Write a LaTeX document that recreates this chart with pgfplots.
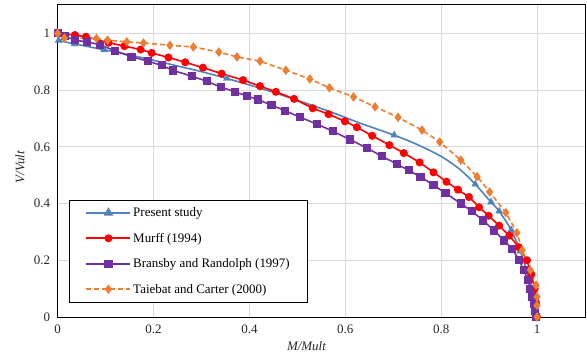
\documentclass[border=0pt]{standalone}
\usepackage{fontspec}
\setmainfont{Liberation Serif}
\usepackage{pgfplots}
\pgfplotsset{compat=1.18}
\definecolor{cblue}{RGB}{79,129,189}
\definecolor{cred}{RGB}{255,0,0}
\definecolor{cpurple}{RGB}{112,48,160}
\definecolor{corange}{RGB}{237,125,49}
\definecolor{cgrid}{RGB}{217,217,217}
\begin{document}
\begin{tikzpicture}
\begin{axis}[
  scale only axis, width=527.3bp, height=312bp,
  xmin=0, xmax=1.1, ymin=0, ymax=1.1,
  xtick={0,0.2,0.4,0.6,0.8,1}, ytick={0,0.2,0.4,0.6,0.8,1},
  xticklabels={0,0.2,0.4,0.6,0.8,1}, yticklabels={0,0.2,0.4,0.6,0.8,1},
  grid=major, major grid style={cgrid, line width=1pt},
  major tick length=0pt,
  axis line style={black, line width=1pt},
  tick label style={font=\fontsize{13}{14}\selectfont, text=black!85},
  xticklabel style={yshift=-4bp},
  yticklabel style={xshift=-4bp},
  /pgf/number format/assume math mode=true,
  xlabel={\textit{M/Mult}},
  label style={font=\fontsize{13}{14}\selectfont, text=black!85},
  xlabel style={at={(axis description cs:0.472,0)}, anchor=center, yshift=-29bp},
  legend style={at={(axis cs:0.024,0.414)}, anchor=north west, draw=black, line width=0.9pt,
    font=\fontsize{13}{15}\selectfont, inner xsep=16bp, inner ysep=5.5bp, row sep=11bp},
  legend cell align=left,
  legend image code/.code={\draw[mark repeat=2,mark phase=2,#1] plot coordinates {(0bp,0bp)(22bp,0bp)(44bp,0bp)};},
]
\addlegendimage{cblue, line width=1.6pt, mark=triangle*, mark size=4pt}
\addlegendentry{Present study}
\addplot[cblue, line width=1.6pt, smooth, mark=none, forget plot] coordinates {
(0,0.975)(0.035,0.963)(0.097,0.942)(0.15,0.924)(0.2,0.905)(0.25,0.885)(0.3,0.865)(0.353,0.841)
(0.4,0.818)(0.443,0.796)(0.5,0.764)(0.568,0.724)(0.63,0.684)(0.702,0.641)(0.75,0.608)(0.8,0.566)
(0.84,0.519)(0.871,0.468)(0.904,0.405)(0.921,0.373)(0.946,0.307)(0.965,0.232)(0.978,0.165)
(0.989,0.10)(0.996,0.05)(1,0)};
\addplot[cblue, only marks, mark=triangle*, mark size=4pt, forget plot] coordinates {
(0.002,0.975)(0.035,0.963)(0.097,0.942)(0.353,0.841)(0.702,0.641)(0.871,0.468)(0.904,0.405)
(0.921,0.373)(0.946,0.307)(0.965,0.232)};
\addplot[cred, line width=1.6pt, mark=*, mark size=3.2pt] coordinates {
(0,1.0)(0.036,0.994)(0.059,0.988)(0.106,0.967)(0.139,0.955)(0.173,0.943)(0.196,0.931)(0.231,0.915)
(0.266,0.898)(0.303,0.879)(0.342,0.858)(0.387,0.835)(0.422,0.814)(0.455,0.794)(0.493,0.769)
(0.532,0.736)(0.565,0.715)(0.599,0.690)(0.624,0.669)(0.656,0.639)(0.692,0.606)(0.722,0.578)
(0.755,0.545)(0.784,0.510)(0.811,0.477)(0.835,0.449)(0.858,0.423)(0.879,0.387)(0.899,0.357)
(0.921,0.322)(0.942,0.287)(0.962,0.246)(0.979,0.200)(0.988,0.15)(0.995,0.10)(0.998,0.05)(1.0,0.0)};
\addlegendentry{Murff (1994)}
\addplot[cpurple, line width=1.6pt, mark=square*, mark size=3.3pt] coordinates {
(0,1.0)(0.015,0.990)(0.036,0.976)(0.061,0.970)(0.088,0.960)(0.120,0.938)(0.154,0.918)(0.188,0.902)
(0.217,0.887)(0.241,0.869)(0.280,0.849)(0.311,0.831)(0.341,0.810)(0.370,0.794)(0.395,0.779)
(0.417,0.767)(0.446,0.747)(0.475,0.727)(0.506,0.704)(0.541,0.680)(0.574,0.655)(0.609,0.626)
(0.646,0.595)(0.676,0.567)(0.708,0.539)(0.732,0.517)(0.757,0.494)(0.784,0.465)(0.809,0.437)
(0.841,0.400)(0.864,0.373)(0.888,0.340)(0.910,0.305)(0.931,0.270)(0.948,0.240)(0.963,0.200)
(0.972,0.165)(0.981,0.130)(0.986,0.100)(0.990,0.071)(0.993,0.047)(0.996,0.020)(0.997,0.0)};
\addlegendentry{Bransby and Randolph (1997)}
\addplot[corange, line width=1.6pt, dash pattern=on 5bp off 3bp, mark=diamond*, mark size=3.5pt, mark options={solid}] coordinates {
(0,1.0)(0.014,0.984)(0.081,0.982)(0.104,0.976)(0.144,0.970)(0.179,0.966)(0.234,0.958)(0.283,0.952)
(0.336,0.934)(0.374,0.917)(0.422,0.902)(0.476,0.870)(0.526,0.839)(0.567,0.808)(0.617,0.776)
(0.662,0.741)(0.710,0.704)(0.760,0.659)(0.797,0.617)(0.841,0.553)(0.875,0.495)(0.901,0.441)
(0.935,0.368)(0.958,0.297)(0.969,0.235)(0.986,0.165)(0.998,0.112)(1.0,0.071)(1.0,0.041)(1.0,0.0)};
\addlegendentry{Taiebat and Carter (2000)}
\end{axis}
\node[rotate=90, anchor=center, font=\fontsize{13}{14}\selectfont, text=black!85] at (-37.7bp,149.8bp) {\textit{V/Vult}};
\pgfresetboundingbox
\path[use as bounding box] (-57.7bp,-41bp) rectangle (529.3bp,317bp);
\end{tikzpicture}
\end{document}
